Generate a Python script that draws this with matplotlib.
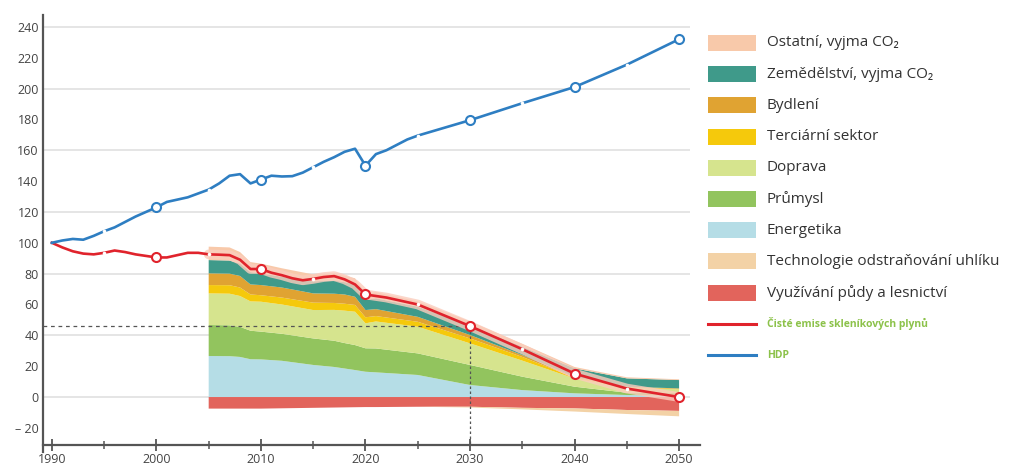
import matplotlib
matplotlib.use('Agg')
import matplotlib.pyplot as plt
from matplotlib.patches import Rectangle
from matplotlib.lines import Line2D

plt.rcParams['font.family'] = ['Open Sans', 'DejaVu Sans']

# ---------------- data ----------------
gdp_years = [1990, 1991, 1992, 1993, 1994, 1995, 1996, 1997, 1998, 1999, 2000,
             2001, 2002, 2003, 2004, 2005, 2006, 2007, 2008, 2009, 2010,
             2011, 2012, 2013, 2014, 2015, 2016, 2017, 2018, 2019, 2020,
             2021, 2022, 2023, 2024, 2025, 2030, 2035, 2040, 2045, 2050]
gdp = [100, 101.5, 102.5, 102, 104.5, 107.5, 110, 113.5, 117, 120, 123,
       126.5, 128, 129.5, 132, 134.5, 138.5, 143.5, 144.5, 138.5, 141,
       143.5, 143, 143.2, 145.5, 149, 152.5, 155.5, 159, 161, 150,
       157.5, 160, 163.5, 167, 169.5, 179.5, 190.5, 201, 215.5, 232]

ghg_years = [1990, 1991, 1992, 1993, 1994, 1995, 1996, 1997, 1998, 1999, 2000,
             2001, 2002, 2003, 2004, 2005, 2006, 2007, 2008, 2009, 2010,
             2011, 2012, 2013, 2014, 2015, 2016, 2017, 2018, 2019, 2020,
             2021, 2022, 2023, 2025, 2030, 2035, 2040, 2045, 2050]
ghg = [100, 97, 94.5, 93, 92.5, 93.5, 95, 94, 92.5, 91.5, 90.5,
       90.5, 92, 93.5, 93.5, 92.5, 92.3, 92, 89, 83, 83,
       80.6, 79, 77, 75.7, 76.6, 77.8, 78.4, 76.3, 73, 66.5,
       65.5, 64.5, 63, 60, 46, 31, 15.2, 5.5, 0]

sector_years = [2005, 2007, 2008, 2009, 2010, 2012, 2015, 2017, 2018, 2019,
                2020, 2021, 2025, 2030, 2035, 2040, 2045, 2050]
energetika = [26.6, 26.5, 26.0, 24.5, 24.4, 23.5, 20.8, 19.5, 18.5, 17.5,
              16.4, 16.0, 14.3, 7.8, 4.5, 2.4, 1.3, 0.9]
prumysl = [20.1, 20.0, 19.5, 18.5, 18.0, 17.5, 17.2, 17.0, 16.5, 16.2,
           15.2, 15.5, 14.0, 13.0, 8.7, 4.3, 1.5, 1.7]
doprava = [20.5, 20.5, 20.0, 19.0, 19.4, 19.0, 18.4, 20.0, 21.0, 21.6,
           16.2, 17.5, 17.3, 14.0, 10.4, 5.3, 3.2, 2.4]
terciarni = [5.4, 5.5, 5.5, 4.5, 4.2, 4.5, 4.8, 4.5, 4.5, 4.4,
             3.9, 3.5, 3.2, 3.2, 2.4, 0.6, 0.3, 0.3]
bydleni = [7.6, 7.5, 7.5, 6.5, 6.6, 6.5, 6.0, 6.0, 6.0, 5.3,
           4.7, 4.5, 3.2, 2.2, 1.2, 0.6, 0.4, 0.3]
zemedelstvi = [8.6, 8.5, 8.0, 8.0, 7.6, 7.0, 7.8, 8.5, 8.0, 8.0,
               6.6, 7.0, 6.6, 6.3, 5.4, 5.4, 5.4, 5.4]
ostatni = [8.7, 8.5, 7.5, 6.5, 6.3, 5.5, 4.5, 4.5, 4.2, 4.0,
           4.0, 4.0, 3.4, 2.5, 1.9, 0.9, 0.7, 0.5]
puda = [-7.5, -7.5, -7.5, -7.5, -7.5, -7.3, -7.0, -6.8, -6.7, -6.6,
        -6.5, -6.5, -6.3, -6.3, -7.0, -7.4, -8.4, -9.0]
technologie = [0, 0, 0, 0, 0, 0, 0, 0, 0, 0,
               0, 0, 0, -0.5, -1.0, -2.0, -2.6, -3.5]

yticks = [-20, 0, 20, 40, 60, 80, 100, 120, 140, 160, 180, 200, 220, 240]
ytick_labels = ['– 20', '0', '20', '40', '60', '80', '100', '120', '140',
                '160', '180', '200', '220', '240']
xticks_major = [1990, 2000, 2010, 2020, 2030, 2040, 2050]
xticks_minor = [1995, 2005, 2015, 2025, 2035, 2045]
grid_levels = [0, 40, 80, 120, 160, 200, 240]
target_year = 2030
target_value = 46

legend_labels = ['Ostatní, vyjma CO₂', 'Zemědělství, vyjma CO₂', 'Bydlení',
                 'Terciární sektor', 'Doprava', 'Průmysl', 'Energetika',
                 'Technologie odstraňování uhlíku', 'Využívání půdy a lesnictví']
line_labels = ['Čisté emise skleníkových plynů', 'HDP']

# ---------------- styles ----------------
c_ost = '#f8c9aa'
c_zem = '#3f9a8a'
c_byd = '#e0a332'
c_ter = '#f5c90c'
c_dop = '#d6e48e'
c_pru = '#92c45e'
c_ene = '#b5dde6'
c_tech = '#f3d2a6'
c_puda = '#e2645c'
c_red = '#e0232c'
c_blue = '#2e7ec2'
c_grey = '#555555'

W, H = 1010, 469
fig = plt.figure(figsize=(W / 100, H / 100), dpi=100)
ax_top_px, ax_bot_px = 15, 445
ax = fig.add_axes([43 / W, (H - ax_bot_px) / H, (700 - 43) / W,
                   (ax_bot_px - ax_top_px) / H])

y_bottom, y_top = -31.1, 247.7
x0, x1 = 1989.15, 2052.0
ax.set_xlim(x0, x1)
ax.set_ylim(y_bottom, y_top)

# grid
ax.hlines(grid_levels, x0, 2051, colors='#e3e3e3', linewidth=1.3, zorder=0)

# stacks
ax.stackplot(sector_years, energetika, prumysl, doprava, terciarni, bydleni,
             zemedelstvi, ostatni,
             colors=[c_ene, c_pru, c_dop, c_ter, c_byd, c_zem, c_ost],
             linewidth=0, zorder=2)
ax.stackplot(sector_years, puda, technologie, colors=[c_puda, c_tech],
             linewidth=0, zorder=2)

# dashed target lines
ax.plot([x0, target_year], [target_value, target_value], color=c_grey,
        linewidth=0.9, dashes=(3, 3), zorder=3)
ax.plot([target_year, target_year], [target_value, y_bottom], color=c_grey,
        linewidth=0.9, dashes=(2, 2), zorder=3)

# halo under red line
halo_idx = [i for i, y in enumerate(ghg_years) if y >= 2005]
ax.plot([ghg_years[i] for i in halo_idx], [ghg[i] for i in halo_idx],
        color='#fbcdbd', linewidth=7, alpha=0.8, zorder=3.5,
        solid_capstyle='round')

# lines
ax.plot(ghg_years, ghg, color=c_red, linewidth=1.9, zorder=4)
ax.plot(gdp_years, gdp, color=c_blue, linewidth=1.9, zorder=4)

marker_years = [2000, 2010, 2020, 2030, 2040, 2050]
small_years = [1995, 2005, 2015, 2025, 2035, 2045]
for yrs, vals, col in [(ghg_years, ghg, c_red), (gdp_years, gdp, c_blue)]:
    mx = [y for y in yrs if y in marker_years]
    my = [v for y, v in zip(yrs, vals) if y in marker_years]
    ax.plot(mx, my, linestyle='none', marker='o', markersize=6.5,
            markerfacecolor='white', markeredgecolor=col,
            markeredgewidth=1.5, zorder=5)
    sx = [y for y in yrs if y in small_years]
    sy = [v for y, v in zip(yrs, vals) if y in small_years]
    ax.plot(sx, sy, linestyle='none', marker='o', markersize=2.6,
            markerfacecolor='white', markeredgewidth=0, zorder=5)

# spines and ticks
for s in ['top', 'right']:
    ax.spines[s].set_visible(False)
for s in ['left', 'bottom']:
    ax.spines[s].set_color(c_grey)
    ax.spines[s].set_linewidth(1.6)
ax.spines['left'].set_bounds(-35.5, y_top)

ax.set_yticks(yticks)
ax.set_yticklabels(ytick_labels)
ax.tick_params(axis='y', length=0, pad=3, labelsize=9, labelcolor='#444444')
ax.set_xticks(xticks_major)
ax.set_xticks(xticks_minor, minor=True)
ax.tick_params(axis='x', which='major', direction='inout', length=9,
               width=1.3, color=c_grey, labelsize=9, labelcolor='#444444',
               pad=1)
ax.tick_params(axis='x', which='minor', direction='inout', length=6,
               width=1.1, color=c_grey)

# ---------------- legend ----------------
lax = fig.add_axes([0, 0, 1, 1])
lax.set_xlim(0, W)
lax.set_ylim(H, 0)
lax.axis('off')
lax.patch.set_alpha(0)

patch_colors = [c_ost, c_zem, c_byd, c_ter, c_dop, c_pru, c_ene, c_tech, c_puda]
row0, step = 43, 31.2
for i, (lab, col) in enumerate(zip(legend_labels, patch_colors)):
    yc = row0 + i * step
    lax.add_patch(Rectangle((708, yc - 8), 48, 16, facecolor=col,
                            edgecolor='none'))
    lax.text(767, yc, lab, fontsize=11, color='#333333', va='center',
             ha='left')
for j, (lab, col) in enumerate(zip(line_labels, [c_red, c_blue])):
    yc = row0 + (len(legend_labels) + j) * step
    lax.add_line(Line2D([708, 756], [yc, yc], color=col, linewidth=2.2))
    lax.text(767, yc, lab, fontsize=7.5, color='#8cc24a', va='center',
             ha='left', fontweight='bold')

fig.savefig('out.png', dpi=100)
